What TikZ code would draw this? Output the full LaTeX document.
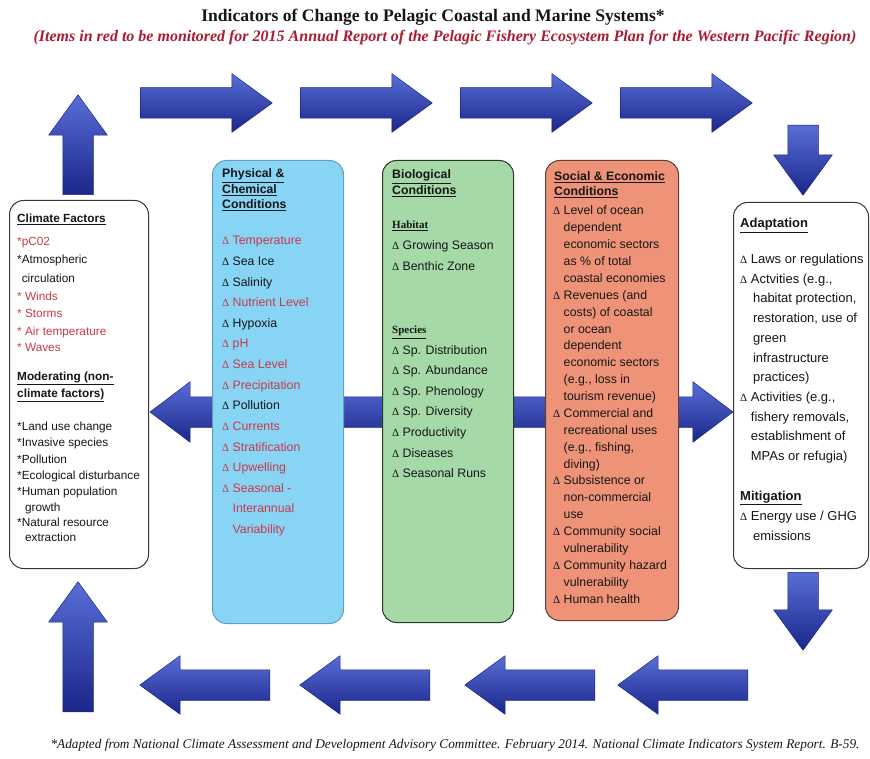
\documentclass[tikz,border=0pt]{standalone}
\usepackage{fontspec}
\setmainfont{Liberation Serif}
\setsansfont{Liberation Sans}
\newfontfamily\deltafont{Liberation Serif}
\usetikzlibrary{shapes.arrows}

\definecolor{arrowtop}{RGB}{88,110,214}
\definecolor{arrowmid}{RGB}{40,58,174}
\definecolor{arrowbot}{RGB}{26,38,138}
\definecolor{itemred}{RGB}{200,58,72}
\definecolor{titlered}{RGB}{170,28,50}
\definecolor{txt}{RGB}{22,22,22}
\definecolor{phyfill}{RGB}{135,212,245}
\definecolor{phyline}{RGB}{98,160,192}
\definecolor{biofill}{RGB}{166,217,168}
\definecolor{bioline}{RGB}{38,58,38}
\definecolor{socfill}{RGB}{238,147,120}
\definecolor{socline}{RGB}{96,64,54}
\definecolor{boxline}{RGB}{55,55,55}

\newcommand{\dl}{{\deltafont\fontsize{11}{11}\selectfont Δ}\ }
\newcommand{\dind}{\hphantom{\dl}}
\newcommand{\hd}[1]{\underline{\textbf{#1}}}

\begin{document}
\begin{tikzpicture}[
  x=1pt,y=-1pt,
  flowarrow/.style={single arrow,anchor=tail,draw=arrowbot,line width=0.5pt,
    top color=arrowtop,middle color=arrowmid,bottom color=arrowbot,
    inner sep=15pt,single arrow head extend=14pt,single arrow tip angle=72,
    minimum height=#1},
  linkarrow/.style={double arrow,draw=arrowbot,line width=0.5pt,
    top color=arrowtop,middle color=arrowmid,bottom color=arrowbot,
    inner sep=15pt,double arrow head extend=15pt,double arrow tip angle=74,
    minimum height=#1},
  panel/.style={anchor=north west,rounded corners=14pt,line width=1pt,inner sep=0pt},
  item/.style={anchor=base west,inner sep=0pt,text=txt,font=\sffamily\fontsize{12.3}{14}\selectfont},
  smallitem/.style={item,font=\sffamily\fontsize{11.8}{14}\selectfont},
  wideitem/.style={item,font=\sffamily\fontsize{13}{15}\selectfont},
  subhd/.style={anchor=base west,inner sep=0pt,text=txt,font=\bfseries\fontsize{11}{12}\selectfont}
]
\useasboundingbox (0,0) rectangle (870,759);

% titles
\node[font=\bfseries\fontsize{17.6}{19}\selectfont,text=txt] (title) at (433,17)
  {Indicators of Change to Pelagic Coastal and Marine Systems*};
\node[font=\bfseries\itshape\fontsize{16}{17}\selectfont,text=titlered] (subtitle) at (445,38)
  {(Items in red to be monitored for 2015 Annual Report of the Pelagic Fishery Ecosystem Plan for the Western Pacific Region)};
\node[font=\itshape\fontsize{13.3}{15}\selectfont,text=txt] (source) at (455,745)
  {*Adapted from National Climate Assessment and Development Advisory Committee. February 2014. National Climate Indicators System Report. B-59.};

% the loop of arrows
\node[flowarrow=100,rotate=90] (upper) at (78,195) {};
\foreach \x [count=\i] in {140,300,460,620}
  \node[flowarrow=132] (top\i) at (\x,103) {};
\node[flowarrow=70,rotate=-90] (downA) at (803,125) {};
\node[flowarrow=78,rotate=-90] (downB) at (803,572) {};
\foreach \x [count=\i] in {270,430,595,748}
  \node[flowarrow=130,rotate=180] (bot\i) at (\x,685) {};
\node[flowarrow=130,rotate=90] (lower) at (78,712) {};
\node[linkarrow=583] (link) at (441.5,412) {};

% panels
\node[panel,draw=boxline,fill=white,minimum width=139pt,minimum height=368pt] (climate) at (9,200) {};
\node[panel,draw=phyline,fill=phyfill,minimum width=131pt,minimum height=463pt] (phys) at (212,160) {};
\node[panel,draw=bioline,fill=biofill,minimum width=131pt,minimum height=462pt] (bio) at (382,160) {};
\node[panel,draw=socline,fill=socfill,minimum width=133pt,minimum height=460pt] (soc) at (545,160) {};
\node[panel,draw=boxline,fill=white,minimum width=135pt,minimum height=366pt] (adapt) at (733,202) {};

% climate factors
\foreach \y/\col/\lbl [count=\i] in {
  223/txt/\hd{Climate Factors},
  246/itemred/*pC02,
  264/txt/*Atmospheric,
  283/txt/\hphantom{*}circulation,
  301/itemred/* Winds,
  318/itemred/* Storms,
  335/itemred/* Air temperature,
  351/itemred/* Waves,
  380/txt/\hd{Moderating (non-},
  397/txt/\hd{climate factors)},
  430/txt/*Land use change,
  446/txt/*Invasive species,
  463/txt/*Pollution,
  479/txt/*Ecological disturbance,
  495/txt/*Human population,
  511/txt/\hphantom{*}\ growth,
  526/txt/*Natural resource,
  541/txt/\hphantom{*}\ extraction}
  \node[smallitem,text=\col] (clim\i) at (17,\y) {\lbl};

% physical & chemical
\foreach \lbl [count=\i from 0] in {\hd{Physical \&},\hd{Chemical},\hd{Conditions}}
  \node[item] (phyhd\i) at (222,{178+15.5*\i}) {\lbl};
\foreach \col/\lbl [count=\i from 0] in {
  itemred/\dl Temperature, txt/\dl Sea Ice, txt/\dl Salinity,
  itemred/\dl Nutrient Level, txt/\dl Hypoxia, itemred/\dl pH,
  itemred/\dl Sea Level, itemred/\dl Precipitation, txt/\dl Pollution,
  itemred/\dl Currents, itemred/\dl Stratification, itemred/\dl Upwelling,
  itemred/\dl Seasonal -, itemred/\dind Interannual, itemred/\dind Variability}
  \node[item,text=\col] (phy\i) at (222,{245+20.6*\i}) {\lbl};

% biological
\foreach \lbl [count=\i from 0] in {\hd{Biological},\hd{Conditions}}
  \node[item] (biohd\i) at (392,{179+15.5*\i}) {\lbl};
\node[subhd] (habitat) at (392,229) {\underline{Habitat}};
\foreach \lbl [count=\i from 0] in {Growing Season, Benthic Zone}
  \node[item] (hab\i) at (392,{250+21*\i}) {\dl\lbl};
\node[subhd] (species) at (392,334) {\underline{Species}};
\foreach \lbl [count=\i from 0] in {Sp. Distribution, Sp. Abundance, Sp. Phenology,
  Sp. Diversity, Productivity, Diseases, Seasonal Runs}
  \node[item] (spc\i) at (392,{354+20.6*\i}) {\dl\lbl};

% social & economic
\foreach \lbl [count=\i from 0] in {\hd{Social \& Economic},\hd{Conditions}}
  \node[item] (sochd\i) at (554,{181+15*\i}) {\lbl};
\foreach \lbl [count=\i from 0] in {
  \dl Level of ocean, \dind dependent, \dind economic sectors,
  \dind as \% of total, \dind coastal economies,
  \dl Revenues (and, \dind costs) of coastal, \dind or ocean, \dind dependent,
  \dind economic sectors, {\dind (e.g., loss in}, \dind tourism revenue),
  \dl Commercial and, \dind recreational uses, {\dind (e.g., fishing,}, \dind diving),
  \dl Subsistence or, \dind non-commercial, \dind use,
  \dl Community social, \dind vulnerability,
  \dl Community hazard, \dind vulnerability, \dl Human health}
  \node[item] (soc\i) at (553,{215+16.87*\i}) {\lbl};

% adaptation & mitigation
\node[wideitem] (adapthd) at (740,228) {\hd{Adaptation}};
\foreach \lbl [count=\i from 0] in {
  \dl Laws or regulations, {\dl Actvities (e.g.,}, {\dind\,habitat protection,},
  {\dind\,restoration, use of}, \dind\,green, \dind\,infrastructure, \dind\,practices),
  {\dl Activities (e.g.,}, {\dind fishery removals,}, \dind establishment of,
  \dind MPAs or refugia)}
  \node[wideitem] (adp\i) at (740,{263.5+19.7*\i}) {\lbl};
\node[wideitem] (mitighd) at (740,500) {\hd{Mitigation}};
\node[wideitem] (mit0) at (740,520) {\dl Energy use / GHG};
\node[wideitem] (mit1) at (740,540) {\dind\,emissions};

\end{tikzpicture}
\end{document}
